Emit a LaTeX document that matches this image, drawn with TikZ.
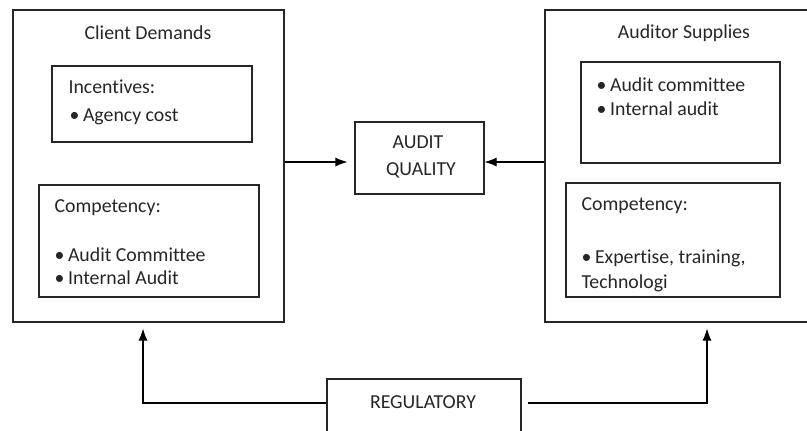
\documentclass[tikz,border=0pt]{standalone}
\usepackage{fontspec}
\setmainfont{Carlito}[Ligatures=NoCommon]
\usetikzlibrary{arrows.meta,positioning}
\tikzset{box/.style={draw=black!85, rectangle, inner sep=0pt}}
\tikzset{txt/.style={anchor=base west, inner sep=0pt, text=black!85, font=\fontsize{19.8}{23}\selectfont}}
\newcommand{\bul}{\makebox[13.5pt][l]{\textbullet}}

\begin{document}
\begin{tikzpicture}[x=1pt,y=-1pt,>={Latex[length=12pt,width=9pt]},line width=1.1pt]
    \useasboundingbox (0,0) rectangle (807,431);
    % outer blocks
    \node [box, minimum width=271pt, minimum height=312pt] (client) at (148.5,166) {};
    \node [box, minimum width=278pt, minimum height=312pt] (auditor) at (684,166) {};
    \node [box, minimum width=129pt, minimum height=72pt] (quality) at (419.5,158) {};
    \node [box, minimum width=194pt, minimum height=60pt] (reg) at (424,409) {};
    % inner blocks
    \node [box, minimum width=200pt, minimum height=76pt] (incent) at (152,104) {};
    \node [box, minimum width=220pt, minimum height=112pt] (compcl) at (149,241) {};
    \node [box, minimum width=199pt, minimum height=101pt] (supply) at (680.5,112.5) {};
    \node [box, minimum width=214pt, minimum height=114pt] (compau) at (673,240) {};

    \node [txt, anchor=base] (cltitle) at (148,39) {Client Demands};
    \node [txt, anchor=base] (autitle) at (684,38) {Auditor Supplies};
    \node [txt] (inc1) at (68,93) {Incentives:};
    \node [txt] (inc2) at (69,121) {\bul Agency cost};
    \node [txt] (cc1) at (54,212) {Competency:};
    \node [txt] (cc2) at (54,261) {\bul Audit Committee};
    \node [txt] (cc3) at (54,284) {\bul Internal Audit};
    \node [txt] (sup1) at (596,91) {\bul Audit committee};
    \node [txt] (sup2) at (596,115) {\bul Internal audit};
    \node [txt] (ca1) at (581,210) {Competency:};
    \node [txt] (ca2) at (581,263) {\bul Expertise, training,};
    \node [txt] (ca3) at (581,288) {Technologi};
    \node [txt, anchor=base] (aq1) at (418,148) {AUDIT};
    \node [txt, anchor=base] (aq2) at (421,175) {QUALITY};
    \node [txt, anchor=base] (regtxt) at (423,408) {REGULATORY};

    \path (reg.west) ++(0,-6) coordinate (regl);
    \path (reg.east) ++(6,-6) coordinate (regr);

    \draw [->, shorten >=7pt] (client.east |- 0,162) -- (quality.west |- 0,162);
    \draw [->] (auditor.west |- 0,162) -- (quality.east |- 0,162);
    \draw [->, shorten >=6pt] (regl) -| ([xshift=-5.5pt]client.south);
    \draw [->, shorten >=6pt] (regr) -| ([xshift=23pt]auditor.south);
\end{tikzpicture}
\end{document}
